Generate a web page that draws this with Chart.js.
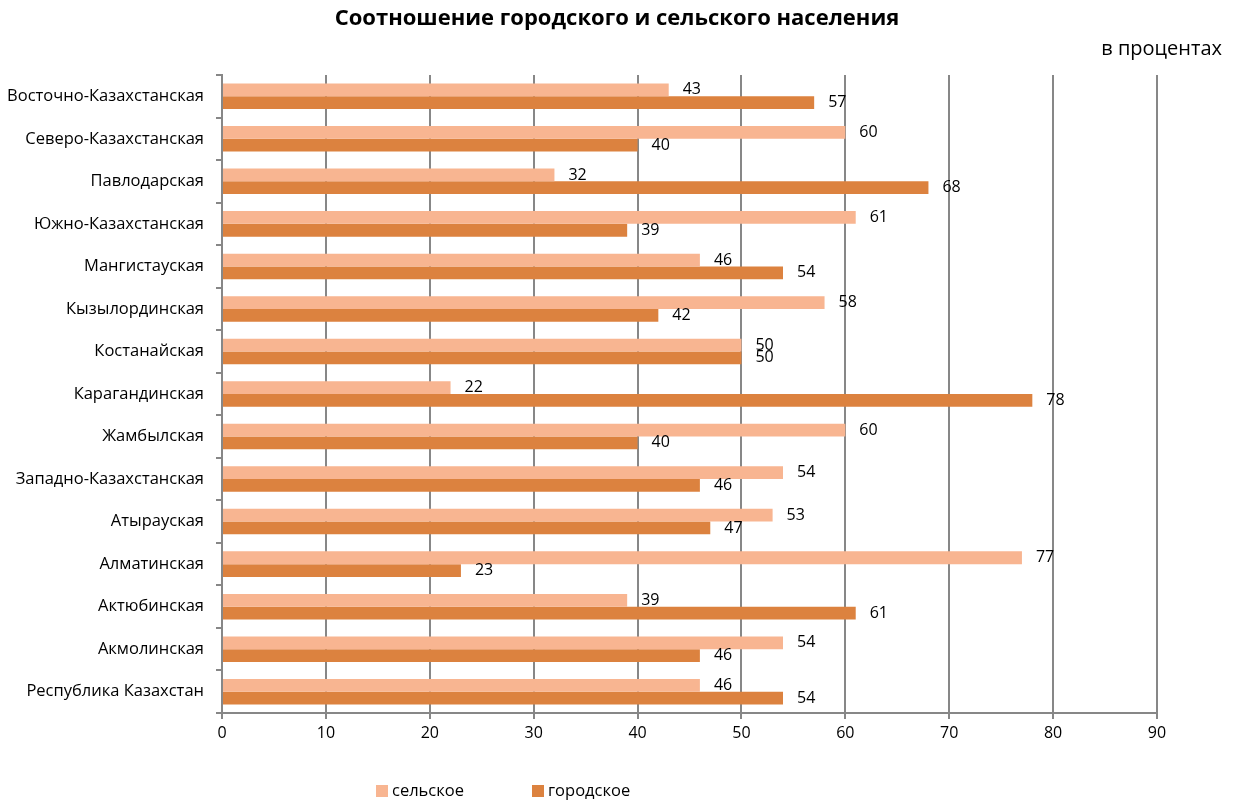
<!DOCTYPE html>
<html>
<head>
<meta charset="utf-8">
<script src="https://cdn.jsdelivr.net/npm/chart.js@4/dist/chart.umd.min.js"></script>
<style>
  body { margin: 0; background: #fff; }
  #wrap { width: 1235px; height: 803px; }
</style>
</head>
<body>
<div id="wrap"><canvas id="myChart" width="1235" height="803"></canvas></div>
<script>
var regions = ['Восточно-Казахстанская', 'Северо-Казахстанская', 'Павлодарская', 'Южно-Казахстанская',
    'Мангистауская', 'Кызылординская', 'Костанайская', 'Карагандинская', 'Жамбылская',
    'Западно-Казахстанская', 'Атырауская', 'Алматинская', 'Актюбинская', 'Акмолинская', 'Республика Казахстан'];
var rural = [43, 60, 32, 61, 46, 58, 50, 22, 60, 54, 53, 77, 39, 54, 46];
var urban = [57, 40, 68, 39, 54, 42, 50, 78, 40, 46, 47, 23, 61, 46, 54];
var seriesNames = ['сельское', 'городское'];
var colors = ['#F8B591', '#DC823F'];

var FONT = '"Open Sans", "DejaVu Sans", sans-serif';
var gridGray = '#878787';

// extra text: title, unit note, value labels, legend
var extras = {
    id: 'extras',
    afterDatasetsDraw: function (chart) {
        var ctx = chart.ctx;
        ctx.save();
        ctx.fillStyle = '#000';
        ctx.font = '16px ' + FONT;
        ctx.textAlign = 'left';
        ctx.textBaseline = 'middle';
        chart.data.datasets.forEach(function (ds, i) {
            var meta = chart.getDatasetMeta(i);
            meta.data.forEach(function (bar, j) {
                ctx.fillText(ds.data[j], bar.x + 14, bar.y);
            });
        });
        ctx.restore();
    },
    afterDraw: function (chart) {
        var ctx = chart.ctx;
        ctx.save();
        ctx.fillStyle = '#000';
        ctx.textBaseline = 'middle';
        ctx.textAlign = 'center';
        ctx.font = 'bold 22px ' + FONT;
        ctx.fillText('Соотношение городского и сельского населения', 617, 19);
        ctx.textAlign = 'right';
        ctx.font = '20px ' + FONT;
        ctx.fillText('в процентах', 1222, 49);

        // legend
        ctx.textAlign = 'left';
        ctx.font = '16.5px ' + FONT;
        var xs = [376, 532];
        chart.data.datasets.forEach(function (ds, i) {
            ctx.fillStyle = ds.backgroundColor;
            ctx.fillRect(xs[i], 785, 12, 12);
            ctx.fillStyle = '#000';
            ctx.fillText(ds.label, xs[i] + 16, 791);
        });
        ctx.restore();
    }
};

var ctx = document.getElementById('myChart').getContext('2d');
var myChart = new Chart(ctx, {
    type: 'bar',
    data: {
        labels: regions,
        datasets: [
            { label: seriesNames[0], data: rural, backgroundColor: colors[0] },
            { label: seriesNames[1], data: urban, backgroundColor: colors[1] }
        ]
    },
    options: {
        indexAxis: 'y',
        responsive: false,
        animation: false,
        categoryPercentage: 0.6,
        barPercentage: 1.0,
        layout: { padding: { left: 0, right: 78, top: 75, bottom: 50 } },
        plugins: {
            legend: { display: false },
            title: { display: false },
            tooltip: { enabled: false }
        },
        scales: {
            x: {
                min: 0,
                max: 90,
                ticks: { stepSize: 10, color: '#000', font: { size: 16, family: FONT }, padding: 5 },
                grid: { color: gridGray, lineWidth: 2, tickLength: 6 },
                border: { color: gridGray, width: 2 },
                afterFit: function (s) { s.height = 40; }
            },
            y: {
                ticks: { color: '#000', font: { size: 16.5, family: FONT }, padding: 12, autoSkip: false },
                grid: { offset: true, drawOnChartArea: false, color: gridGray, lineWidth: 2, tickLength: 6 },
                border: { color: gridGray, width: 2 },
                afterFit: function (s) { s.width = 222; }
            }
        }
    },
    plugins: [extras]
});
</script>
</body>
</html>
